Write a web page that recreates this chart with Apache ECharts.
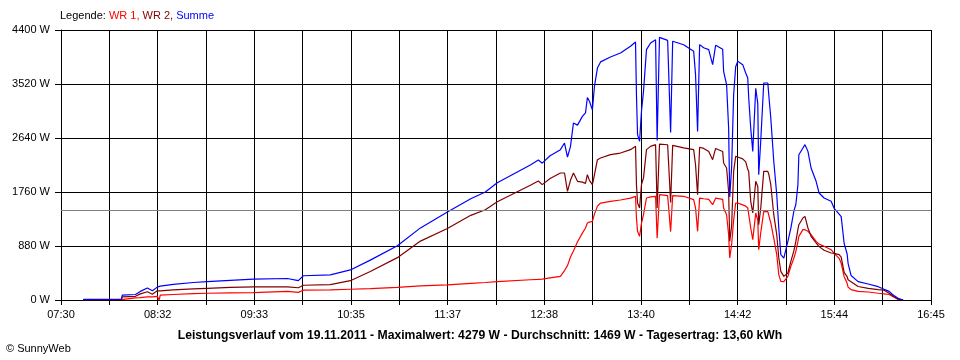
<!DOCTYPE html>
<html>
<head>
<meta charset="utf-8">
<script src="https://cdn.jsdelivr.net/npm/echarts@6/dist/echarts.min.js"></script>
<style>html,body{margin:0;padding:0;background:#fff}#c{width:960px;height:360px}</style>
</head>
<body>
<div id="c"></div>
<script>
// time in minutes of the day
const times = [464.2,488.5,489.1,497.5,500.6,505.1,508.3,511.4,512.6,513.3,521.6,534.4,543.3,558.0,572.7,594.4,601.4,604.6,621.8,634.6,647.3,664.6,679.3,696.5,711.4,720.7,728.3,749.4,754.5,757.0,762.0,768.6,771.2,773.1,775.0,776.9,779.5,782.6,784.6,785.8,787.1,789.0,790.3,792.2,794.2,800.5,806.9,813.3,816.5,817.1,817.8,819.1,820.3,821.6,823.5,826.1,829.3,830.3,831.8,837.0,838.9,840.2,847.2,853.6,854.8,856.1,857.4,860.0,863.2,865.7,867.6,872.1,872.7,874.6,875.9,876.6,877.8,879.1,880.4,881.7,884.9,886.8,888.1,888.7,890.0,891.3,893.2,894.5,895.1,896.4,898.3,900.9,901.5,902.8,904.7,906.6,907.9,909.2,911.1,913.7,915.6,917.5,918.8,920.1,920.7,923.3,924.6,926.5,928.5,931.7,933.6,936.8,941.3,943.2,946.4,947.7,949.6,951.5,952.1,954.0,958.5,964.9,971.3,975.1,978.3,980.9,984.0,987.2];
const wr1 = [5,5,30,35,40,50,50,60,0,80,90,105,110,115,120,140,125,160,165,175,185,205,230,245,270,285,300,330,335,340,360,386,480,560,700,800,950,1090,1173,1255,1270,1282,1400,1530,1580,1608,1630,1660,1689,1336,1119,1037,1250,1390,1662,1680,1689,1005,1716,1700,1115,1700,1690,1635,1500,1119,1660,1650,1640,1553,1660,1640,1500,1390,1064,684,900,1300,1580,1580,1550,1530,1500,1500,1173,983,1418,1300,820,1100,1445,1440,1420,1255,1010,738,413,304,300,386,548,680,793,950,1037,1146,1146,1120,1064,956,910,875,820,760,679,600,380,272,210,170,140,130,110,100,90,54,10,0];
const wr2 = [5,10,50,60,100,135,95,150,150,150,165,180,190,205,215,215,200,240,250,315,465,690,960,1165,1380,1470,1600,1870,1940,1880,1980,2070,2070,1770,1950,2070,1934,1920,1900,2042,1950,1880,2040,2287,2314,2368,2395,2450,2504,1880,1580,1500,1880,1990,2450,2504,2531,1500,2540,2530,1590,2520,2480,2450,2200,1716,2490,2470,2420,2287,2470,2420,2232,2151,1771,956,1200,2096,2341,2330,2300,2250,2130,2096,1608,1418,1934,1850,1227,1500,2096,2096,2050,1880,1390,1064,684,467,385,440,630,800,956,1150,1227,1336,1363,1173,1037,929,870,810,766,760,740,700,450,380,330,299,220,190,170,160,109,60,15,0];
const summe = [10,12,80,90,140,195,150,210,205,225,255,285,300,320,340,350,315,395,410,490,650,885,1175,1435,1650,1760,1910,2200,2280,2230,2350,2450,2558,2330,2500,2884,2850,2993,3050,3300,3240,3100,3480,3780,3880,3960,4025,4134,4205,3346,2694,2586,3075,3400,4080,4188,4242,2600,4279,4230,2730,4216,4160,4052,3672,2748,4162,4110,4080,3835,4150,4085,3727,3509,2803,1680,2151,3346,3800,3889,3835,3700,3617,3300,2800,2422,3450,3200,2042,2600,3536,3536,3346,2966,2260,1716,1173,738,684,956,1173,1445,1560,1879,2368,2477,2531,2422,2151,1934,1744,1662,1608,1494,1400,1358,924,750,598,400,300,261,217,174,140,81,27,0];
const xTickLabels = ['07:30','08:32','09:33','10:35','11:37','12:38','13:40','14:42','15:44','16:45'];
const yTicks = [0,880,1760,2640,3520,4400];
const average = 1469;
const startMin = 450;   // 07:30
const spanSec = 33300;  // 555 min
const stepSec = 1850;

const toPts = arr => times.map((t,i)=>[(t-startMin)*60, arr[i]]);
const font = '"Liberation Sans", Arial, sans-serif';

const chart = echarts.init(document.getElementById('c'), null, {renderer:'canvas'});
chart.setOption({
  animation:false,
  backgroundColor:'#fff',
  textStyle:{fontFamily:font},
  title:[
    {left:60, top:10, padding:0,
     text:'{k|Legende: }{a|WR 1, }{b|WR 2, }{c|Summe}',
     textStyle:{fontSize:11, fontWeight:'normal', rich:{
       k:{color:'#000',fontSize:11,fontFamily:font},
       a:{color:'#ff0000',fontSize:11,fontFamily:font},
       b:{color:'#800000',fontSize:11,fontFamily:font},
       c:{color:'#0000ff',fontSize:11,fontFamily:font}}}},
    {left:'center', top:330, padding:0,
     text:'Leistungsverlauf vom 19.11.2011 - Maximalwert: 4279 W - Durchschnitt: 1469 W - Tagesertrag: 13,60 kWh',
     textStyle:{fontSize:12.2, fontWeight:'bold', color:'#000', fontFamily:font}},
    {left:6, top:343, padding:0, text:'© SunnyWeb',
     textStyle:{fontSize:11, fontWeight:'normal', color:'#000', fontFamily:font}}
  ],
  grid:{left:61, top:30, width:870, height:270, containLabel:false},
  xAxis:{type:'value', min:0, max:spanSec, interval:stepSec,
    axisLine:{show:true, lineStyle:{color:'#000', width:1}},
    axisTick:{show:true, length:5, lineStyle:{color:'#000'}},
    axisLabel:{color:'#000', fontSize:11, margin:9, fontFamily:font,
      formatter:v=>{const k=Math.round(v/stepSec); return k%2===0 ? xTickLabels[k/2] : '';}},
    splitLine:{show:true, lineStyle:{color:'#000', width:1}}},
  yAxis:{type:'value', min:yTicks[0], max:yTicks[yTicks.length-1], interval:880,
    axisLine:{show:true, lineStyle:{color:'#000', width:1}},
    axisTick:{show:true, length:6, lineStyle:{color:'#000'}},
    axisLabel:{color:'#000', fontSize:11, margin:11, fontFamily:font, formatter:v=>v+' W'},
    splitLine:{show:true, lineStyle:{color:'#000', width:1}}},
  series:[
    {name:'WR 1', type:'line', data:toPts(wr1), showSymbol:false, symbol:'none',
     lineStyle:{color:'#ff0000', width:1.2}, itemStyle:{color:'#ff0000'},
     markLine:{silent:true, symbol:['none','none'], label:{show:false},
       lineStyle:{color:'#808080', type:'solid', width:1}, data:[{yAxis:average}]}},
    {name:'WR 2', type:'line', data:toPts(wr2), showSymbol:false, symbol:'none',
     lineStyle:{color:'#800000', width:1.2}, itemStyle:{color:'#800000'}},
    {name:'Summe', type:'line', data:toPts(summe), showSymbol:false, symbol:'none',
     lineStyle:{color:'#0000ff', width:1.2}, itemStyle:{color:'#0000ff'}}
  ]
});
</script>
</body>
</html>
